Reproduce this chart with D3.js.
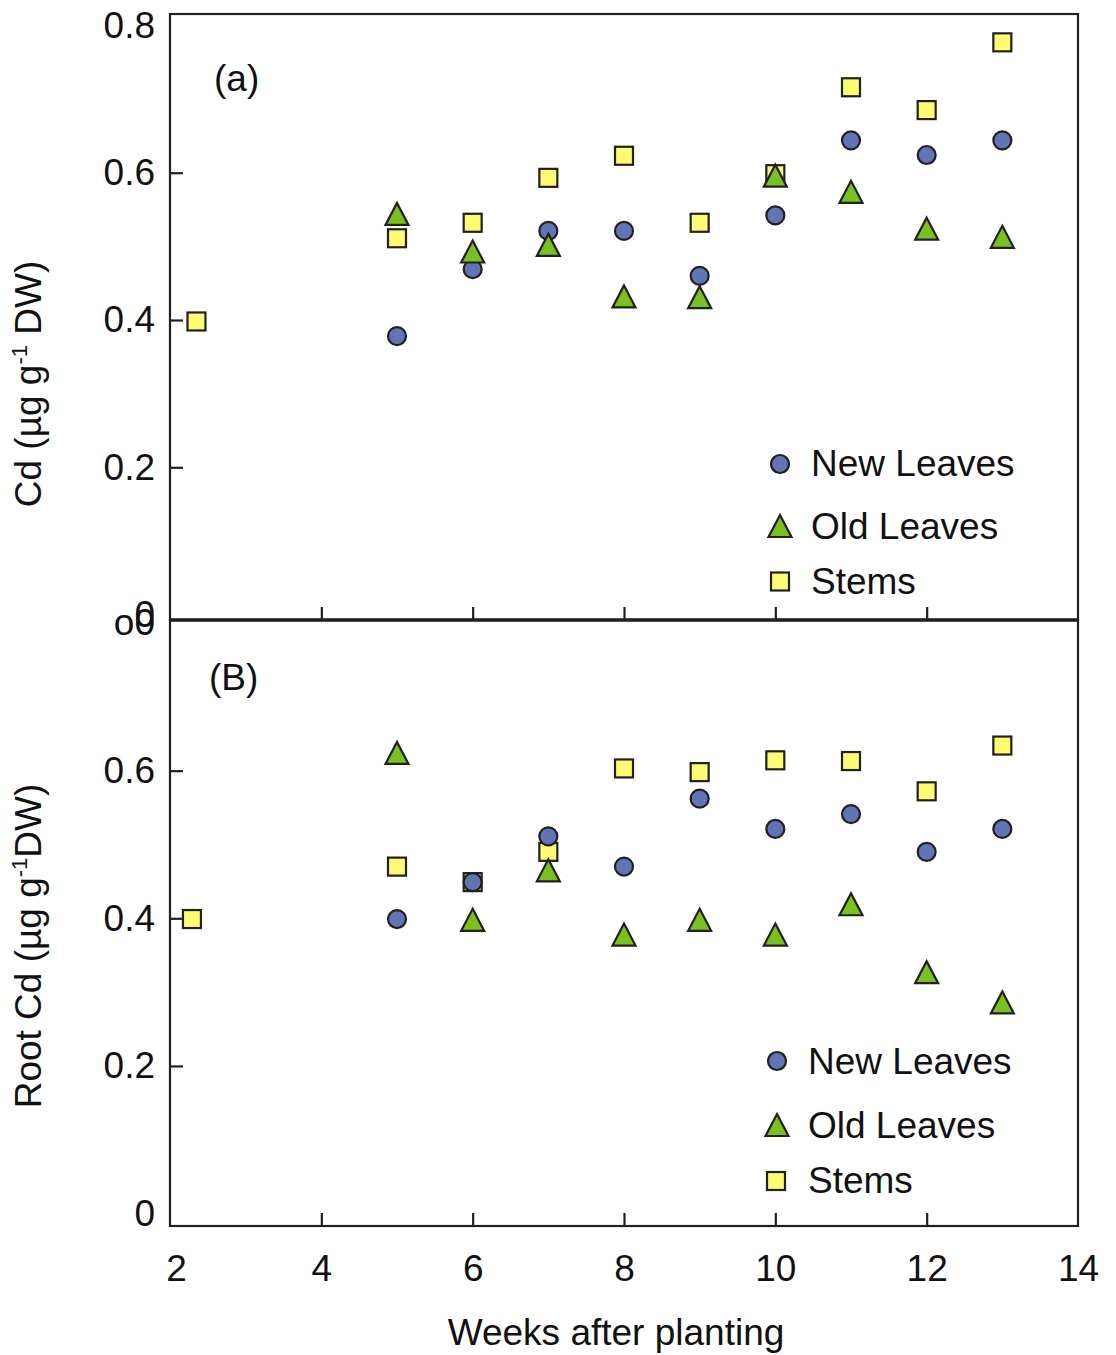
<!DOCTYPE html>
<html>
<head>
<meta charset="utf-8">
<script src="https://cdn.jsdelivr.net/npm/d3@7"></script>
<style>
  html, body { margin: 0; padding: 0; background: #fff; }
  svg text { font-family: "Liberation Sans", Arial, Helvetica, sans-serif; fill: #111; }
</style>
</head>
<body>
<script>
// ---- data -------------------------------------------------------------
const weeks = [5, 6, 7, 8, 9, 10, 11, 12, 13];

// Panel (a): shoot tissues
const newLeavesA = [0.378, 0.469, 0.521, 0.521, 0.460, 0.542, 0.644, 0.624, 0.644];
const oldLeavesA = [0.544, 0.493, 0.502, 0.432, 0.431, 0.596, 0.574, 0.524, 0.513];
const stemsA     = [0.511, 0.532, 0.593, 0.623, 0.532, 0.598, 0.716, 0.685, 0.777];
const stemsStartA = { week: 2.35, value: 0.398 };

// Panel (B): root
const newLeavesB = [0.399, 0.449, 0.511, 0.470, 0.562, 0.521, 0.541, 0.490, 0.521];
const oldLeavesB = [0.624, 0.398, 0.465, 0.378, 0.398, 0.378, 0.419, 0.327, 0.286];
const stemsB     = [0.470, 0.449, 0.490, 0.603, 0.598, 0.614, 0.613, 0.572, 0.634];
const stemsStartB = { week: 2.29, value: 0.399 };

const seriesNames = ["New Leaves", "Old Leaves", "Stems"];
const xTickValues = [2, 4, 6, 8, 10, 12, 14];
const xTickMarks  = [4, 6, 8, 10, 12];
const yTickValues = [0, 0.2, 0.4, 0.6, 0.8];
const yTickMarks  = [0.2, 0.4, 0.6];
const yTickLabelsA = ["0", "0.2", "0.4", "0.6", "0.8"];
const yTickLabelsB = ["0", "0.2", "0.4", "0.6", "o0"];

// ---- layout -------------------------------------------------------------
const W = 1116, H = 1355;
const left = 170, right = 1078;
const topA = 14, bottomA = 620;
const topB = 620, bottomB = 1226;
const ink = "#231f20";
const FS = 37;

const fills = { "New Leaves": "#6174b6", "Old Leaves": "#79c120", "Stems": "#fdfb72" };

const svg = d3.select("body").append("svg")
  .attr("width", W).attr("height", H);

const x = d3.scaleLinear().domain([2, 14]).range([left, right]);
const yA = d3.scaleLinear().domain([0, 0.8]).range([614.6, 25.4]);
const yB = d3.scaleLinear().domain([0, 0.8]).range([1213.6, 623]);

// marker shapes
function triPath(w, h) {
  return `M0,${-h / 2}L${w / 2},${h / 2}L${-w / 2},${h / 2}Z`;
}
function drawMarker(g, name) {
  if (name === "New Leaves") {
    g.append("circle").attr("r", 9);
  } else if (name === "Old Leaves") {
    g.append("path").attr("d", triPath(23, 22));
  } else {
    g.append("rect").attr("x", -9).attr("y", -9).attr("width", 18).attr("height", 18);
  }
  g.selectAll("*")
    .attr("fill", fills[name])
    .attr("stroke", ink)
    .attr("stroke-width", 2.2)
    .attr("stroke-linejoin", "miter");
}

function panel(cfg) {
  const { y, top, bottom, series, labels, tag, tagPos, legend, title, titlePos } = cfg;
  const g = svg.append("g");

  // frame
  g.append("rect")
    .attr("x", left).attr("y", top)
    .attr("width", right - left).attr("height", bottom - top)
    .attr("fill", "none").attr("stroke", ink).attr("stroke-width", 2.2);

  // inward y ticks
  const yTicks = g.append("g").attr("transform", `translate(${left},0)`)
    .call(d3.axisLeft(y).tickValues(yTickMarks).tickSizeInner(-13).tickSizeOuter(0).tickFormat(""));
  yTicks.select(".domain").remove();
  yTicks.selectAll("line").attr("stroke", ink).attr("stroke-width", 2.2);

  // y tick labels
  const yLab = g.append("g").attr("transform", `translate(${left},0)`)
    .call(d3.axisLeft(y).tickValues(yTickValues).tickSize(0).tickPadding(15)
      .tickFormat((d, i) => labels[i]));
  yLab.select(".domain").remove();
  yLab.selectAll("text").attr("font-size", FS).attr("font-family", null).attr("fill", "#111");

  // upward x ticks on the panel's bottom edge
  const xTicks = g.append("g").attr("transform", `translate(0,${bottom})`)
    .call(d3.axisBottom(x).tickValues(xTickMarks).tickSizeInner(-13).tickSizeOuter(0).tickFormat(""));
  xTicks.select(".domain").remove();
  xTicks.selectAll("line").attr("stroke", ink).attr("stroke-width", 2.2);

  // points: stems, then new leaves, then old leaves on top
  const order = ["Stems", "New Leaves", "Old Leaves"];
  order.forEach(name => {
    const pts = series[name];
    g.append("g").selectAll("g").data(pts).join("g")
      .attr("transform", d => `translate(${x(d.week)},${y(d.value)})`)
      .each(function () { drawMarker(d3.select(this), name); });
  });

  // panel tag
  g.append("text").attr("x", tagPos[0]).attr("y", tagPos[1])
    .attr("font-size", FS).text(tag);

  // legend
  seriesNames.forEach((name, i) => {
    const m = g.append("g").attr("transform", `translate(${legend.mx[i]},${legend.my[i]})`);
    drawMarker(m, name);
    g.append("text").attr("x", legend.tx).attr("y", legend.ty[i])
      .attr("font-size", FS).text(name);
  });

  // y title
  const t = g.append("text")
    .attr("transform", `translate(${titlePos[0]},${titlePos[1]}) rotate(-90)`)
    .attr("text-anchor", "middle").attr("font-size", FS);
  title(t);
}

function build(newL, oldL, stems, start) {
  return {
    "New Leaves": weeks.map((w, i) => ({ week: w, value: newL[i] })),
    "Old Leaves": weeks.map((w, i) => ({ week: w, value: oldL[i] })),
    "Stems": [start].concat(weeks.map((w, i) => ({ week: w, value: stems[i] })))
  };
}

panel({
  y: yA, top: topA, bottom: bottomA,
  series: build(newLeavesA, oldLeavesA, stemsA, stemsStartA),
  labels: yTickLabelsA,
  tag: "(a)", tagPos: [214, 91],
  legend: { mx: [780, 780, 780], my: [464, 526, 581.5], tx: 811, ty: [475.5, 539, 594] },
  titlePos: [41, 384],
  title: t => {
    t.append("tspan").text("Cd (µg g");
    t.append("tspan").attr("font-size", 22).attr("dy", -14).text("-1");
    t.append("tspan").attr("dy", 14).text(" DW)");
  }
});

panel({
  y: yB, top: topB, bottom: bottomB,
  series: build(newLeavesB, oldLeavesB, stemsB, stemsStartB),
  labels: yTickLabelsB,
  tag: "(B)", tagPos: [209, 690],
  legend: { mx: [777, 777, 776], my: [1061, 1125, 1181], tx: 808, ty: [1073.5, 1137.5, 1192.5] },
  titlePos: [41, 946],
  title: t => {
    t.append("tspan").text("Root Cd (µg g");
    t.append("tspan").attr("font-size", 22).attr("dy", -14).text("-1");
    t.append("tspan").attr("dy", 14).text("DW)");
  }
});

// shared boundary between the panels is drawn heavier
svg.append("line")
  .attr("x1", left).attr("x2", right).attr("y1", bottomA).attr("y2", bottomA)
  .attr("stroke", ink).attr("stroke-width", 3.6);

// x tick labels under the lower panel
const xLab = svg.append("g").attr("transform", `translate(0,${bottomB})`)
  .call(d3.axisBottom(x).tickValues(xTickValues).tickSize(0).tickPadding(29).tickFormat(d3.format("d")));
xLab.select(".domain").remove();
xLab.selectAll("text").attr("font-size", FS).attr("font-family", null).attr("fill", "#111")
  .attr("dx", d => d === 2 ? 6 : 0);

// x title
svg.append("text")
  .attr("x", 616).attr("y", 1345)
  .attr("text-anchor", "middle").attr("font-size", FS)
  .text("Weeks after planting");
</script>
</body>
</html>
